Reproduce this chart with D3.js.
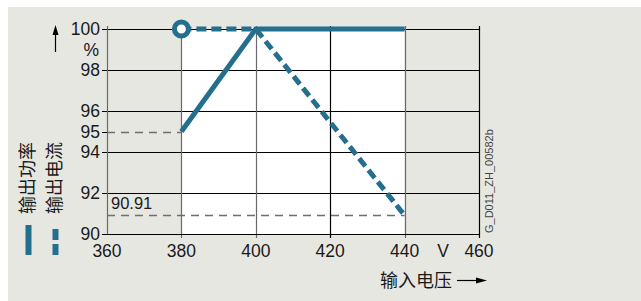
<!DOCTYPE html>
<html>
<head>
<meta charset="utf-8">
<script src="https://cdn.jsdelivr.net/npm/d3@7"></script>
<style>
  body { margin: 0; background: #fff; }
  svg { display: block; font-family: "Liberation Sans", Arial, sans-serif; }
</style>
</head>
<body>
<svg width="641" height="301"></svg>
<script>
// data
const xTicks = [360, 380, 400, 420, 440, 460]
const yTicks = [90, 92, 94, 95, 96, 98, 100]
const yGrid = [92, 94, 96, 98, 100]
const powerPts = [[380, 95], [400, 100], [440, 100]] // 输出功率
const currentPts = [[380, 100], [400, 100], [440, 90.91]] // 输出电流
const refLines = [{ v: 95, x1: 380, label: null }, { v: 90.91, x1: 440, label: "90.91" }]
const seriesNames = ["输出功率", "输出电流"]

const blue = "#246f8e"
const labelSize = 17.5
const svg = d3.select("svg")

const x = d3.scaleLinear().domain([360, 460]).range([107, 479])
const y = d3.scaleLinear().domain([90, 100]).range([234, 29])

// background panel
svg.append("rect").attr("x", 8).attr("y", 7).attr("width", 633).attr("height", 294).attr("fill", "#e7e7e2")

// white data area
svg.append("rect")
	.attr("x", x(380)).attr("y", y(100))
	.attr("width", x(440) - x(380)).attr("height", y(90) - y(100))
	.attr("fill", "#fff")

// reference dashed lines
refLines.forEach(r => {
	svg.append("line")
		.attr("x1", x(360)).attr("x2", x(r.x1))
		.attr("y1", Math.round(y(r.v)) + 0.5).attr("y2", Math.round(y(r.v)) + 0.5)
		.attr("stroke", "#6e6e6e").attr("stroke-width", 1.3).attr("stroke-dasharray", "8,6")
	if (r.label) {
		svg.append("text").attr("x", x(360) + 4).attr("y", y(r.v) - 6)
			.attr("font-size", 16.5).attr("fill", "#1a1a1a").text(r.label)
	}
})

// horizontal grid
yGrid.forEach(v => {
	svg.append("line")
		.attr("x1", x(360)).attr("x2", x(460))
		.attr("y1", Math.round(y(v)) + 0.5).attr("y2", Math.round(y(v)) + 0.5)
		.attr("stroke", "#000").attr("stroke-width", 1)
})

// vertical grid (data verticals drawn gray)
const grayV = [360, 380, 400, 440]
xTicks.forEach(v => {
	svg.append("line")
		.attr("x1", Math.round(x(v)) + 0.5).attr("x2", Math.round(x(v)) + 0.5)
		.attr("y1", y(100) - 3).attr("y2", y(90) + (v === 360 ? 0 : 4))
		.attr("stroke", grayV.includes(v) ? "#6a6a6a" : "#000").attr("stroke-width", 1.2)
})

// x axis line
svg.append("line")
	.attr("x1", x(360) - 4).attr("x2", x(460))
	.attr("y1", Math.round(y(90)) + 0.5).attr("y2", Math.round(y(90)) + 0.5)
	.attr("stroke", "#000")

// y ticks + labels
yTicks.forEach(v => {
	svg.append("line")
		.attr("x1", x(360) - 5).attr("x2", x(360))
		.attr("y1", Math.round(y(v)) + 0.5).attr("y2", Math.round(y(v)) + 0.5)
		.attr("stroke", "#000")
	svg.append("text").attr("x", x(360) - 7).attr("y", y(v) + 6)
		.attr("text-anchor", "end").attr("font-size", labelSize).attr("fill", "#1a1a1a").text(v)
})
svg.append("text").attr("x", 99).attr("y", 56).attr("text-anchor", "end")
	.attr("font-size", labelSize).attr("fill", "#1a1a1a").text("%")

// x labels
xTicks.forEach(v => {
	svg.append("text").attr("x", x(v)).attr("y", 257)
		.attr("text-anchor", "middle").attr("font-size", labelSize).attr("fill", "#1a1a1a").text(v)
})
svg.append("text").attr("x", 443).attr("y", 257).attr("text-anchor", "middle")
	.attr("font-size", labelSize).attr("fill", "#1a1a1a").text("V")

// axis titles / arrows
svg.append("line").attr("x1", 55.5).attr("x2", 55.5).attr("y1", 52).attr("y2", 32).attr("stroke", "#000").attr("stroke-width", 1.2)
svg.append("path").attr("d", "M55.5,25 L52.5,35 L58.5,35 Z").attr("fill", "#000")

svg.append("text").attr("x", 380).attr("y", 287).attr("font-size", 18)
	.attr("font-family", "'Noto Sans CJK SC', sans-serif").attr("fill", "#1a1a1a").text("输入电压")
svg.append("line").attr("x1", 457).attr("x2", 478).attr("y1", 280.5).attr("y2", 280.5).attr("stroke", "#000").attr("stroke-width", 1.2)
svg.append("path").attr("d", "M487,280.5 L476,277.5 L476,283.5 Z").attr("fill", "#000")

// series
const line = d3.line().x(d => x(d[0])).y(d => y(d[1]))
svg.append("path").datum(powerPts).attr("d", line)
	.attr("fill", "none").attr("stroke", blue).attr("stroke-width", 5).attr("stroke-linejoin", "miter")
svg.append("path").datum(currentPts).attr("d", line)
	.attr("fill", "none").attr("stroke", blue).attr("stroke-width", 5).attr("stroke-dasharray", "10,5")
svg.append("circle").attr("cx", x(currentPts[0][0])).attr("cy", y(currentPts[0][1])).attr("r", 7)
	.attr("fill", "#fff").attr("stroke", blue).attr("stroke-width", 5)

// legend
seriesNames.forEach((name, i) => {
	const cx = 28 + i * 27
	svg.append("text").attr("transform", `translate(${cx + 6},214) rotate(-90)`)
		.attr("font-size", 18).attr("font-family", "'Noto Sans CJK SC', sans-serif")
		.attr("fill", "#1a1a1a").text(name)
	const sw = svg.append("line").attr("x1", cx + 0.5).attr("x2", cx + 0.5)
		.attr("stroke", blue).attr("stroke-width", 6)
	if (i === 0) sw.attr("y1", 225).attr("y2", 255)
	else sw.attr("y1", 229).attr("y2", 255).attr("stroke-dasharray", "11,4")
})

// drawing id
svg.append("text").attr("transform", "translate(493,233) rotate(-90)")
	.attr("font-size", 11).attr("fill", "#444").text("G_D011_ZH_00582b")
</script>
</body>
</html>
